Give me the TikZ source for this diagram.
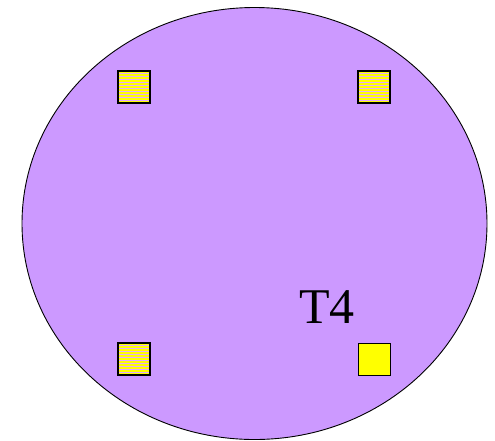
\documentclass[tikz,border=0pt]{standalone}
\usepackage{fontspec}
\setmainfont{Liberation Serif}
\definecolor{lav}{HTML}{CC99FF}
\definecolor{ylw}{HTML}{FFFF00}
\definecolor{stripe}{HTML}{E4A8FF}
\tikzset{
  sq/.style={draw=black, line width=1.2pt, fill=ylw, minimum size=32pt, inner sep=0pt, anchor=north west},
}
\newcommand{\stripesq}[2]{%
  \fill[ylw] (#1,#2) rectangle ++(32,32);
  \foreach \k in {2,5,...,29} {\fill[stripe] (#1,#2+\k) rectangle ++(32,1);}
  \draw[line width=1.2pt] (#1,#2) rectangle ++(32,32);
}
\begin{document}
\begin{tikzpicture}[x=1pt,y=-1pt]
\useasboundingbox (0,0) rectangle (495,440);
\draw[fill=lav, line width=0.9pt] (254.5,223.5) ellipse [x radius=232.5, y radius=216];
\stripesq{118}{71}
\stripesq{358}{71}
\stripesq{118}{343}
\node[sq] (y) at (358,343) {};
\node[font=\fontsize{50}{50}\selectfont, inner sep=0pt] (t) at (327,307) {T4};
\end{tikzpicture}
\end{document}
